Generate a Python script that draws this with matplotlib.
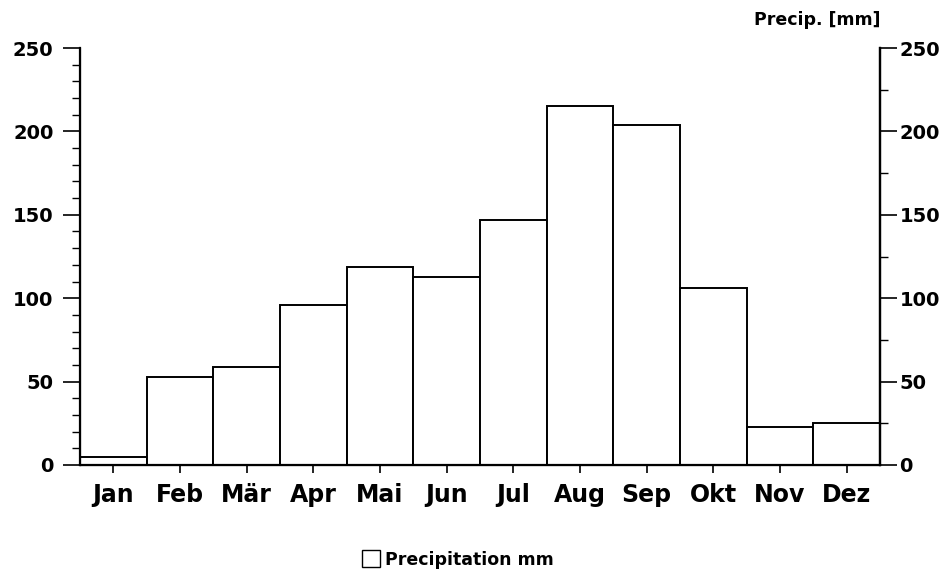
import matplotlib
matplotlib.use("Agg")
import matplotlib.pyplot as plt
from matplotlib.ticker import MultipleLocator
from matplotlib.patches import Rectangle

months = ["Jan", "Feb", "Mär", "Apr", "Mai", "Jun", "Jul", "Aug", "Sep", "Okt", "Nov", "Dez"]
precip = [5, 53, 59, 96, 119, 113, 147, 215, 204, 106, 23, 25]
yticks = [0, 50, 100, 150, 200, 250]

plt.rcParams['font.family'] = ['DejaVu Sans']
plt.rcParams['font.weight'] = 'bold'

fig = plt.figure(figsize=(9.47, 5.8), dpi=100)
W, H = 947, 580
ax = fig.add_axes([80 / W, 1 - 465 / H, 800 / W, 417 / H])

x = list(range(len(months)))
ax.bar(x, precip, width=1.0, color='white', edgecolor='black', linewidth=1.4)
ax.set_xlim(-0.5, len(months) - 0.5)
ax.set_ylim(0, 250)

ax.spines['top'].set_visible(False)
for s in ['left', 'right', 'bottom']:
    ax.spines[s].set_linewidth(1.6)

ax.set_xticks(x)
ax.set_xticklabels(months, fontsize=17, fontweight='bold')
ax.tick_params(axis='x', length=6, width=1.2, pad=7)

ax.set_yticks(yticks)
ax.set_yticklabels([str(v) for v in yticks], fontsize=14, fontweight='bold')
ax.yaxis.set_minor_locator(MultipleLocator(10))
ax.tick_params(axis='y', which='major', length=12, width=1.2, pad=7)
ax.tick_params(axis='y', which='minor', length=6, width=1.0)

ax2 = ax.twinx()
ax2.set_ylim(0, 250)
ax2.set_yticks(yticks)
ax2.set_yticklabels([str(v) for v in yticks], fontsize=14, fontweight='bold')
ax2.yaxis.set_minor_locator(MultipleLocator(25))
ax2.tick_params(axis='y', which='major', length=12, width=1.2, pad=2)
ax2.tick_params(axis='y', which='minor', length=6, width=1.0)
ax2.spines['top'].set_visible(False)
ax2.spines['right'].set_linewidth(1.6)

fig.text(880 / W, 1 - 20 / H, "Precip. [mm]", ha='right', va='center',
         fontsize=12.5, fontweight='bold')

fig.patches.append(Rectangle((362 / W, 1 - 567 / H), 18 / W, 17 / H,
                             transform=fig.transFigure, facecolor='white',
                             edgecolor='black', linewidth=1.0))
fig.text(385 / W, 1 - 560 / H, "Precipitation mm", ha='left', va='center',
         fontsize=12.5, fontweight='bold')

fig.savefig("out.png", dpi=100)
